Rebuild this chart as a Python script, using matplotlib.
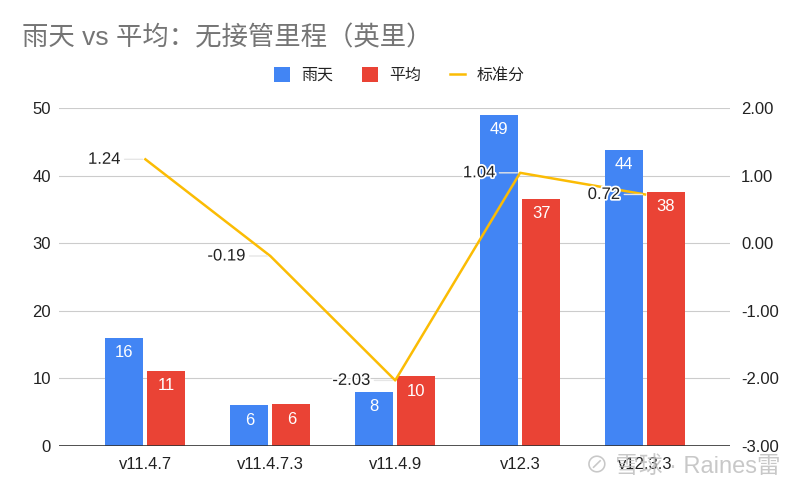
import matplotlib.pyplot as plt
import matplotlib.patheffects as pe
import numpy as np

plt.rcParams['font.family'] = ['Liberation Sans', 'Noto Sans CJK SC', 'DejaVu Sans']

# data
versions = ["v11.4.7", "v11.4.7.3", "v11.4.9", "v12.3", "v12.3.3"]
rain = [16, 6, 8, 49, 43.8]
avg = [11.1, 6.2, 10.3, 36.6, 37.6]
zscore = [1.24, -0.19, -2.03, 1.04, 0.72]

BLUE = "#4285F4"
RED = "#EA4335"
YELLOW = "#FBBC04"

fig = plt.figure(figsize=(8, 4.95), dpi=100)
ax = fig.add_axes([0.074, 0.099, 0.8385, 0.683])

x = np.arange(len(versions))
w = 0.304
gap = 0.016
b1 = ax.bar(x - w / 2 - gap, rain, w, color=BLUE, label="雨天", zorder=3)
b2 = ax.bar(x + w / 2 + gap, avg, w, color=RED, label="平均", zorder=3)

# value labels inside the bars
for bars, vals in [(b1, rain), (b2, avg)]:
    for bar, v in zip(bars, vals):
        ax.annotate(f"{v:.0f}", (bar.get_x() + bar.get_width() / 2, v),
                    xytext=(0, -15), textcoords="offset pixels",
                    ha="center", va="center", color="white", fontsize=12, zorder=4)

ax.set_xlim(-0.69, 4.68)
ax.set_ylim(0, 50)
ax.set_yticks([0, 10, 20, 30, 40, 50])
ax.set_xticks(x)
ax.set_xticklabels(versions)
ax.grid(axis="y", color="#cccccc", linewidth=0.8, zorder=0)
ax.axhline(0, color="#333333", linewidth=1.2, zorder=4)
for s in ax.spines.values():
    s.set_visible(False)
ax.tick_params(axis="both", length=0, labelsize=12, colors="#222222")
ax.tick_params(axis="y", pad=6)
ax.tick_params(axis="x", pad=8)

# standard score on secondary axis
ax2 = ax.twinx()
ax2.set_ylim(-3, 2)
ax2.set_yticks([-3, -2, -1, 0, 1, 2])
ax2.set_yticklabels([f"{t:.2f}" for t in [-3, -2, -1, 0, 1, 2]])
for s in ax2.spines.values():
    s.set_visible(False)
ax2.tick_params(axis="y", length=0, labelsize=12, colors="#222222", pad=8)
line, = ax2.plot(x, zscore, color=YELLOW, linewidth=1.8, label="标准分", zorder=5)

for xi, z in zip(x, zscore):
    ax2.annotate(f"{z:.2f}", (xi, z), xytext=(-25, 0), textcoords="offset pixels",
                 ha="right", va="center", fontsize=12, color="#222222",
                 path_effects=[pe.withStroke(linewidth=2.5, foreground="white")],
                 arrowprops=dict(arrowstyle="-", color="#e6e6e6", lw=1,
                                 shrinkA=1, shrinkB=2), zorder=6)

fig.text(0.027, 0.923, "雨天 vs 平均：无接管里程（英里）", fontsize=19,
         color="#757575", va="center", ha="left")

fig.legend(handles=[b1, b2, line], loc="center", bbox_to_anchor=(0.499, 0.848),
           ncol=3, frameon=False, fontsize=11.5, handlelength=1.0, handleheight=1.0,
           columnspacing=1.8, handletextpad=0.7, labelcolor="#222222")

# watermark
fig.text(0.731, 0.057, "⊘ 雪球 · Raines雷", fontsize=17, color="#bbbbbb",
         alpha=0.8, va="center", ha="left", zorder=10)

fig.savefig("out.png", dpi=100)
